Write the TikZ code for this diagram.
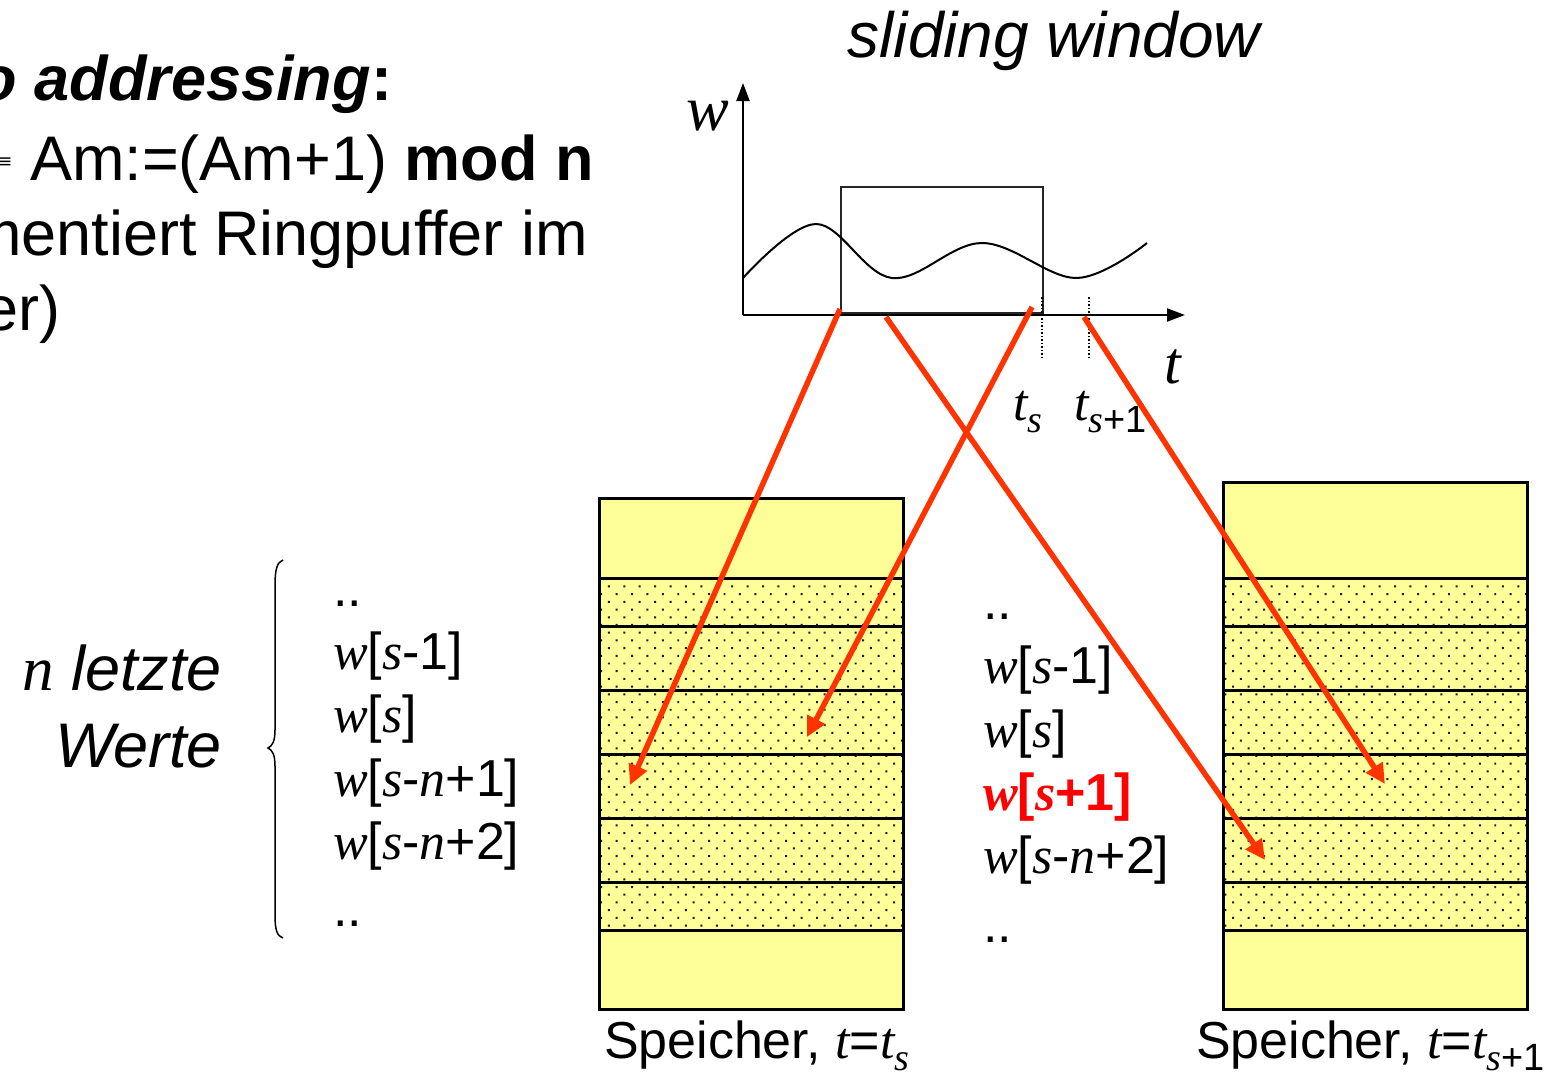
\documentclass[tikz,border=0pt]{standalone}
\usepackage{fontspec}
\setmainfont{Liberation Sans}
\newfontfamily\tms{Liberation Serif}
\newfontfamily\dvs{DejaVu Sans}
\usetikzlibrary{arrows.meta,patterns.meta}
\definecolor{memyellow}{RGB}{255,255,153}
\definecolor{arrowred}{RGB}{255,51,0}
\newcommand{\vi}[1]{{\tms\itshape #1}}
\newcommand{\vb}[1]{{\tms\bfseries\itshape #1}}
\newcommand{\lowsub}[1]{\raisebox{-12pt}{\fontsize{38}{40}\selectfont #1}}
\begin{document}
\begin{tikzpicture}[x=1pt,y=-1pt,
  big/.style={inner sep=0pt,outer sep=0pt,font=\fontsize{63}{76}\selectfont},
  val/.style={inner sep=0pt,outer sep=0pt,font=\fontsize{52}{62}\selectfont,anchor=base west},
  membox/.style={fill=memyellow,inner sep=0pt,outer sep=0pt,minimum width=304pt,anchor=north west},
  memdots/.style={pattern={Dots[radius=1.4pt,distance=10.9pt,angle=45]},pattern color=black!90},
  memline/.style={line width=3pt,draw=black},
  axisline/.style={line width=2.2pt,-{Triangle[length=18pt,width=13pt]}},
  redarrow/.style={draw=arrowred,line width=5.5pt,-{Triangle[length=20pt,width=19pt]}},
  winbox/.style={draw=black!85,line width=2pt},
  dotline/.style={line width=1.5pt,dash pattern=on 1.5pt off 2pt},
]
\useasboundingbox (0,0) rectangle (1550,1072);
\clip (0,0) rectangle (1550,1072);

% heading text (cut at the left edge)
\node[big,anchor=base east] (h1) at (392,100) {\bfseries{\itshape o addressing}:};
\node[inner sep=0pt,font=\dvs\fontsize{18}{20}\selectfont] (eq) at (5,163) {≡};
\node[big,anchor=base west] (h2) at (30,180) {Am:=(Am+1) \textbf{mod n}};
\node[big,anchor=base east] (h3) at (588,255) {mentiert Ringpuffer im};
\node[big,anchor=base east] (h4) at (60,330) {er)};

% sliding window title
\node[big,anchor=base,font=\fontsize{64}{76}\selectfont\itshape] (title) at (1054,57) {sliding window};

% memory boxes
\node[membox,minimum height=511pt] (memL) at (599,498) {};
\fill[memdots] (599,578) rectangle (903,930);
\foreach \yy in {578,626,690,754,818,882,930} \draw[memline] (599,\yy) -- (903,\yy);
\draw[memline] (memL.north west) rectangle (memL.south east);

\node[membox,minimum height=527pt] (memR) at (1223,482) {};
\fill[memdots] (1223,578) rectangle (1527,930);
\foreach \yy in {578,626,690,754,818,882,930} \draw[memline] (1223,\yy) -- (1527,\yy);
\draw[memline] (memR.north west) rectangle (memR.south east);

% graph
\coordinate (origin) at (743,315);
\coordinate (ytip) at (743,83);
\coordinate (xtip) at (1185,315);
\draw[axisline] (origin) -- (ytip);
\draw[axisline] (origin) -- (xtip);
\node[winbox,inner sep=0pt,minimum width=202pt,minimum height=126pt,anchor=north west] (win) at (840,186) {};
\draw[line width=2pt] plot[smooth,tension=0.6] coordinates {(743,278) (816,224) (892,278) (982,243) (1076,278) (1147,243)};
\draw[dotline] (1042,297) -- (1042,358);
\draw[dotline] (1089,297) -- (1089,358);

\node[inner sep=0pt,anchor=base west,font=\tms\itshape\fontsize{64}{70}\selectfont] (wl) at (686,130) {w};
\node[inner sep=0pt,anchor=base west,font=\tms\itshape\fontsize{60}{70}\selectfont] (tl) at (1164,383) {t};
\node[val] (ts) at (1013,420) {\vi{t}\lowsub{\vi{s}}};
\node[val] (ts1) at (1074,420) {\vi{t}\lowsub{\vi{s}+1}};

% left values and brace
\node[big,anchor=base east,font=\fontsize{63}{76}\selectfont\itshape] (nl) at (222,690) {\vi{n} letzte};
\node[big,anchor=base east,font=\fontsize{63}{76}\selectfont\itshape] (we) at (222,767) {Werte};
\draw[line width=1.5pt] (283,560) .. controls (277,562) and (275,570) .. (275,585) -- (275,730)
  .. controls (275,742) and (272,746) .. (268,748) .. controls (272,750) and (275,754) .. (275,766)
  -- (275,915) .. controls (275,930) and (277,936) .. (283,938);

\node[val] (l0) at (333,606) {..};
\node[val] (l1) at (333,669) {\vi{w}[\vi{s}-1]};
\node[val] (l2) at (333,732) {\vi{w}[\vi{s}]};
\node[val] (l3) at (333,796) {\vi{w}[\vi{s}-\vi{n}+1]};
\node[val] (l4) at (333,859) {\vi{w}[\vi{s}-\vi{n}+2]};
\node[val] (l5) at (333,926) {..};

\node[val] (m0) at (983,619) {..};
\node[val] (m1) at (983,683) {\vi{w}[\vi{s}-1]};
\node[val] (m2) at (983,747) {\vi{w}[\vi{s}]};
\node[val,text=red] (m3) at (983,810) {\bfseries\vb{w}[\vb{s}+1]};
\node[val] (m4) at (983,873) {\vi{w}[\vi{s}-\vi{n}+2]};
\node[val] (m5) at (983,942) {..};

% captions
\node[val] (capL) at (604,1058) {Speicher, \vi{t}=\vi{t}\lowsub{\vi{s}}};
\node[val] (capR) at (1196,1058) {Speicher, \vi{t}=\vi{t}\lowsub{\vi{s}+1}};

% red arrows
\coordinate (a1s) at (840,309); \coordinate (a1e) at (630,785);
\coordinate (a2s) at (886,317); \coordinate (a2e) at (1265,860);
\coordinate (a3s) at (1032,307); \coordinate (a3e) at (807,737);
\coordinate (a4s) at (1084,317); \coordinate (a4e) at (1385,784);
\draw[redarrow] (a1s) -- (a1e);
\draw[redarrow] (a2s) -- (a2e);
\draw[redarrow] (a3s) -- (a3e);
\draw[redarrow] (a4s) -- (a4e);
\end{tikzpicture}
\end{document}
